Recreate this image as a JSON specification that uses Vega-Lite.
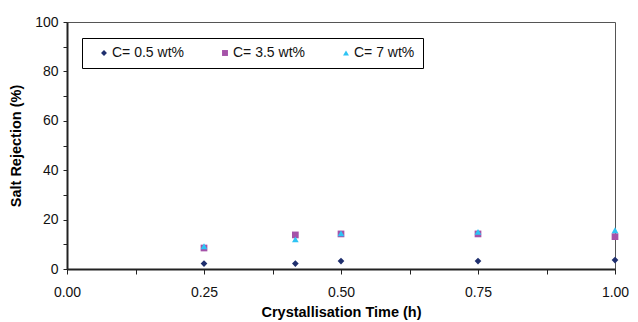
{
  "$schema": "https://vega.github.io/schema/vega-lite/v6.json",
  "autosize": "none",
  "padding": {"left": 67, "top": 22, "right": 23, "bottom": 53},
  "width": 548,
  "height": 247,
  "background": "white",
  "config": {
    "font": "Liberation Sans",
    "view": {"stroke": "#555", "strokeWidth": 1}
  },
  "data": {
    "values": [
      {"t": 0.25, "r": 2.2, "s": "C= 0.5 wt%"},
      {"t": 0.4167, "r": 2.2, "s": "C= 0.5 wt%"},
      {"t": 0.5, "r": 3.2, "s": "C= 0.5 wt%"},
      {"t": 0.75, "r": 3.2, "s": "C= 0.5 wt%"},
      {"t": 1.0, "r": 3.6, "s": "C= 0.5 wt%"},
      {"t": 0.25, "r": 8.5, "s": "C= 3.5 wt%"},
      {"t": 0.4167, "r": 13.8, "s": "C= 3.5 wt%"},
      {"t": 0.5, "r": 14.2, "s": "C= 3.5 wt%"},
      {"t": 0.75, "r": 14.2, "s": "C= 3.5 wt%"},
      {"t": 1.0, "r": 13.1, "s": "C= 3.5 wt%"},
      {"t": 0.25, "r": 9.2, "s": "C= 7 wt%"},
      {"t": 0.4167, "r": 12.0, "s": "C= 7 wt%"},
      {"t": 0.5, "r": 14.4, "s": "C= 7 wt%"},
      {"t": 0.75, "r": 15.0, "s": "C= 7 wt%"},
      {"t": 1.0, "r": 15.7, "s": "C= 7 wt%"}
    ]
  },
  "mark": {"type": "point", "filled": true, "opacity": 1, "size": 45},
  "encoding": {
    "x": {
      "field": "t", "type": "quantitative",
      "scale": {"domain": [0, 1], "nice": false},
      "axis": {
        "title": "Crystallisation Time (h)",
        "titleFontSize": 14.5, "titleFontWeight": "bold", "titleColor": "#000", "titlePadding": 6,
        "values": [0, 0.125, 0.25, 0.375, 0.5, 0.625, 0.75, 0.875, 1.0],
        "labelExpr": "datum.value * 4 % 1 == 0 ? format(datum.value, '.2f') : ''",
        "labelFlush": false, "labelOverlap": false,
        "labelFontSize": 14, "labelColor": "#111", "labelPadding": 11,
        "grid": false, "domainColor": "#222", "domainWidth": 2, "tickColor": "#222", "tickSize": 5
      }
    },
    "y": {
      "field": "r", "type": "quantitative",
      "scale": {"domain": [0, 100], "nice": false},
      "axis": {
        "title": "Salt Rejection (%)",
        "titleFontSize": 14.5, "titleFontWeight": "bold", "titleColor": "#000", "titlePadding": 11,
        "values": [0, 10, 20, 30, 40, 50, 60, 70, 80, 90, 100],
        "labelExpr": "datum.value % 20 == 0 ? datum.value : ''",
        "labelFlush": false, "labelOverlap": false,
        "labelFontSize": 14, "labelColor": "#111", "labelPadding": 5,
        "grid": false, "domainColor": "#222", "domainWidth": 2, "tickColor": "#222", "tickSize": 4
      }
    },
    "color": {
      "field": "s", "type": "nominal",
      "scale": {"domain": ["C= 0.5 wt%", "C= 3.5 wt%", "C= 7 wt%"], "range": ["#1f2f6e", "#a552a8", "#2ec4f4"]},
      "legend": {
        "title": null, "orient": "none", "direction": "horizontal",
        "legendX": 15, "legendY": 16,
        "strokeColor": "#000", "fillColor": "white",
        "padding": 8, "labelFontSize": 14, "labelColor": "#111",
        "columnPadding": 27, "symbolSize": 35, "labelOffset": 1, "symbolOffset": 7
      }
    },
    "shape": {
      "field": "s", "type": "nominal",
      "scale": {"domain": ["C= 0.5 wt%", "C= 3.5 wt%", "C= 7 wt%"], "range": ["diamond", "square", "triangle-up"]},
      "legend": null
    }
  }
}
